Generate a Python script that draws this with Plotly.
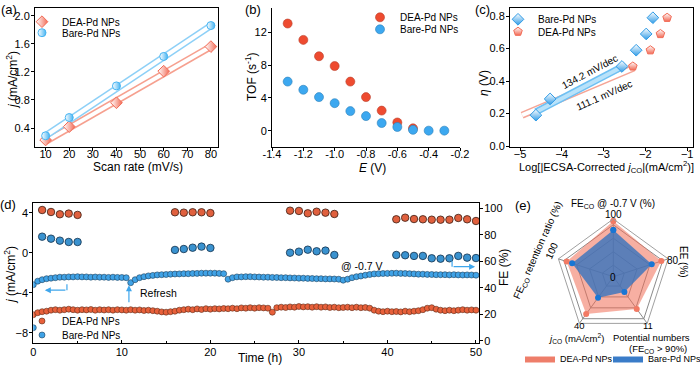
import plotly.graph_objects as go

W, H = 700, 368
FONT = "Arial, 'Liberation Sans', sans-serif"


def fx(p):
    return p / W


def fy(p):
    return 1 - p / H


# ---------------- data ----------------
# (a) double-layer capacitance
scan_rate = [10, 20, 40, 60, 80]
dea_cdl_j = [0.23, 0.42, 0.76, 1.21, 1.56]
bare_cdl_j = [0.29, 0.55, 1.00, 1.42, 1.86]
fit_rate = [10, 80]
dea_cdl_fit = [0.21, 1.56]
bare_cdl_fit = [0.29, 1.86]

# (b) TOF
tof_potential_dea = [-1.3, -1.2, -1.1, -1.0, -0.9, -0.8, -0.7, -0.6, -0.5]
tof_dea = [13.1, 11.1, 9.1, 7.9, 6.0, 4.1, 2.45, 1.0, 0.28]
tof_potential_bare = [-1.3, -1.2, -1.1, -1.0, -0.9, -0.8, -0.7, -0.6, -0.5, -0.4, -0.3]
tof_bare = [6.0, 5.0, 4.1, 3.36, 2.39, 1.78, 0.93, 0.45, 0.1, 0.0, 0.0]

# (c) Tafel
tafel_x_bare = [-4.62, -4.28, -2.56, -2.22, -1.98, -1.82]
tafel_eta_bare = [0.19, 0.29, 0.49, 0.59, 0.69, 0.79]
tafel_x_dea = [-2.30, -1.88, -1.64, -1.48]
tafel_eta_dea = [0.49, 0.59, 0.69, 0.79]
fit_x_bare = [-4.62, -2.54]
fit_eta_bare = [0.21, 0.49]
fit_x_dea = [-4.95, -2.28]
fit_eta_dea = [0.19, 0.48]
slope_labels = ["134.2 mV/dec", "111.1 mV/dec"]

# (d) stability
time_h = [i * 0.5 for i in range(101)]
bare_j_t = [
    -3.2, -2.85, -2.7, -2.6, -2.55, -2.5, -2.45,
    -2.45, -2.42, -2.42, -2.4, -2.42, -2.42, -2.45, -2.43, -2.45, -2.45, -2.47, -2.45, -2.47, -2.48, -2.5,
    -3.0, -2.7, -2.5, -2.4, -2.32, -2.27, -2.22, -2.2, -2.18,
    -2.15, -2.13, -2.12, -2.1, -2.1, -2.08, -2.07, -2.05, -2.05, -2.05, -2.05, -2.07, -2.1,
    -2.65, -2.5, -2.42,
    -2.42, -2.4, -2.4, -2.42, -2.43, -2.45, -2.45, -2.47, -2.48, -2.5, -2.5, -2.52, -2.53, -2.55, -2.55,
    -2.57, -2.58, -2.6, -2.6, -2.62, -2.62, -2.63, -2.65,
    -2.75, -2.65, -2.5, -2.4, -2.33, -2.25, -2.18,
    -2.12, -2.1, -2.08, -2.07, -2.06, -2.05, -2.07, -2.08, -2.1, -2.12, -2.15, -2.15, -2.17, -2.18,
    -2.2, -2.2, -2.2, -2.22, -2.2, -2.22, -2.23, -2.22, -2.23, -2.25,
]
dea_j_t = [
    -6.2, -6.0, -5.9, -5.85, -5.75, -5.7, -5.75, -5.7, -5.65, -5.7, -5.75, -5.7, -5.72, -5.68,
    -5.75, -5.7, -5.73, -5.7, -5.75, -5.7, -5.72, -5.75, -5.7, -5.75, -5.72, -5.78, -5.75, -5.8,
    -5.85, -5.92, -5.95, -5.9, -5.85, -5.75, -5.7, -5.65, -5.7, -5.62, -5.68, -5.6, -5.65, -5.6,
    -5.62, -5.58, -5.6, -5.55, -5.6, -5.52, -5.55, -5.5, -5.55, -5.5, -5.52, -5.55, -5.95, -5.5,
    -5.45, -5.48, -5.42, -5.45, -5.38, -5.42, -5.4, -5.45, -5.4, -5.45, -5.42, -5.48, -5.45, -5.5,
    -5.48, -5.45, -5.5, -5.45, -5.5, -5.48, -5.55, -5.75, -5.85, -5.9, -5.85, -5.9, -5.88, -5.92,
    -5.85, -5.9, -5.85, -5.8, -5.7, -5.55, -5.5, -5.65, -5.75, -5.8, -5.75, -5.8, -5.75, -5.7,
    -5.75, -5.72, -5.75,
]
bare_j_first_t = [0]
bare_j_first = [-7.5]
fe_time = [1, 2, 3, 4, 5, 16, 17, 18, 19, 20, 29, 30, 31, 32, 33, 34,
           41, 42, 43, 44, 45, 46, 47, 48, 49, 50]
fe_dea = [98.7, 97.2, 95.5, 96.0, 95.0, 97.0, 96.7, 97.0, 97.0, 96.4,
          98.2, 98.0, 96.2, 97.4, 96.7, 95.7,
          91.7, 92.9, 91.9, 91.7, 91.4, 91.4, 91.4, 92.7, 91.7, 90.4]
fe_bare = [78.6, 77.1, 75.6, 74.6, 74.6, 68.6, 69.3, 70.3, 71.1, 70.1,
           66.5, 67.3, 68.8, 67.6, 68.1, 64.8,
           64.8, 64.6, 64.1, 64.1, 62.3, 62.0, 62.3, 64.1, 62.8, 62.5]
fe_err_dea = [1.2, 1.0, 1.0, 1.2, 1.0, 1.0, 1.2, 1.0, 1.0, 1.2, 1.0, 1.0, 1.2,
              1.0, 1.0, 1.2, 1.0, 1.2, 1.0, 1.0, 1.2, 1.0, 1.0, 1.2, 1.0, 1.0]
fe_err_bare = [1.2, 1.0, 1.2, 1.0, 1.0, 1.5, 1.2, 1.5, 1.5, 1.2, 1.2, 1.0, 1.5,
               1.2, 1.2, 1.0, 1.2, 1.2, 1.0, 1.2, 1.5, 1.2, 1.2, 1.0, 1.2, 1.2]

# (e) radar
radar_theta = ["FE_CO", "EE", "Potential numbers", "j_CO", "FE_CO retention"]
radar_max = [100, 80, 11, 40, 100]
radar_dea = [96.5, 70, 7.6, 32, 85]
radar_bare = [81, 56, 3.6, 18, 75]

assert len(time_h) == len(bare_j_t) == len(dea_j_t)

# ---------------- colours ----------------
RED_A = "#F26A55"
BLUE_A = "#46B4F2"
ARROW = "#3FA6EC"

fig = go.Figure()

# ---- (a) ----
for yv, c_out, c_in in [(dea_cdl_fit, "#F6A08F", "white"), (bare_cdl_fit, "#8DD0F7", "white")]:
    fig.add_trace(go.Scatter(x=fit_rate, y=yv, mode="lines", line=dict(color=c_out, width=7),
                             xaxis="x", yaxis="y", showlegend=False, hoverinfo="skip"))
    fig.add_trace(go.Scatter(x=fit_rate, y=yv, mode="lines", line=dict(color=c_in, width=4),
                             xaxis="x", yaxis="y", showlegend=False, hoverinfo="skip"))
fig.add_trace(go.Scatter(x=scan_rate, y=dea_cdl_j, mode="markers", name="DEA-Pd NPs",
                         marker=dict(symbol="diamond", size=9, color="white",
                                     gradient=dict(type="horizontal", color=RED_A),
                                     line=dict(color=RED_A, width=1)),
                         xaxis="x", yaxis="y", legend="legend"))
fig.add_trace(go.Scatter(x=scan_rate, y=bare_cdl_j, mode="markers", name="Bare-Pd NPs",
                         marker=dict(symbol="circle", size=8, color="white",
                                     gradient=dict(type="horizontal", color=BLUE_A),
                                     line=dict(color=BLUE_A, width=1)),
                         xaxis="x", yaxis="y", legend="legend2"))

# ---- (b) ----
fig.add_trace(go.Scatter(x=tof_potential_dea, y=tof_dea, mode="markers", name="DEA-Pd NPs",
                         marker=dict(size=9, color="#EE4B30", line=dict(color="#B8402C", width=0.6)),
                         xaxis="x2", yaxis="y2", legend="legend3"))
fig.add_trace(go.Scatter(x=tof_potential_bare, y=tof_bare, mode="markers", name="Bare-Pd NPs",
                         marker=dict(size=9, color="#3CA8F0", line=dict(color="#2C7FB8", width=0.6)),
                         xaxis="x2", yaxis="y2", legend="legend4"))

# ---- (c) ----
for xv, yv, c_out, c_in in [(fit_x_dea, fit_eta_dea, "#F5A596", "white"),
                            (fit_x_bare, fit_eta_bare, "#6EC0F3", "#B8E2FA")]:
    fig.add_trace(go.Scatter(x=xv, y=yv, mode="lines", line=dict(color=c_out, width=7),
                             xaxis="x3", yaxis="y3", showlegend=False, hoverinfo="skip"))
    fig.add_trace(go.Scatter(x=xv, y=yv, mode="lines", line=dict(color=c_in, width=4),
                             xaxis="x3", yaxis="y3", showlegend=False, hoverinfo="skip"))
fig.add_trace(go.Scatter(x=tafel_x_bare, y=tafel_eta_bare, mode="markers", name="Bare-Pd NPs",
                         marker=dict(symbol="diamond", size=9, color="white",
                                     gradient=dict(type="vertical", color="#2F9BE6"),
                                     line=dict(color="#2F9BE6", width=1)),
                         xaxis="x3", yaxis="y3", legend="legend5"))
fig.add_trace(go.Scatter(x=tafel_x_dea, y=tafel_eta_dea, mode="markers", name="DEA-Pd NPs",
                         marker=dict(symbol="pentagon", size=9, color="white",
                                     gradient=dict(type="vertical", color=RED_A),
                                     line=dict(color=RED_A, width=1)),
                         xaxis="x3", yaxis="y3", legend="legend6"))

# ---- (d) ----
fig.add_trace(go.Scatter(x=time_h, y=dea_j_t, mode="markers", name="DEA-Pd NPs",
                         marker=dict(size=6, color="#E8603A", line=dict(color="#5A2A18", width=0.6)),
                         xaxis="x4", yaxis="y4", legend="legend7"))
fig.add_trace(go.Scatter(x=time_h, y=bare_j_t, mode="markers", name="Bare-Pd NPs",
                         marker=dict(size=6, color="#3FA2E6", line=dict(color="#1C3F5C", width=0.6)),
                         xaxis="x4", yaxis="y4", legend="legend8"))
fig.add_trace(go.Scatter(x=bare_j_first_t, y=bare_j_first, mode="markers", showlegend=False,
                         marker=dict(size=6, color="#3FA2E6", line=dict(color="#1C3F5C", width=0.6)),
                         xaxis="x4", yaxis="y4"))
fig.add_trace(go.Scatter(x=fe_time, y=fe_dea, mode="markers", showlegend=False,
                         error_y=dict(type="data", array=fe_err_dea, color="#333", thickness=0.8, width=2.5),
                         marker=dict(size=7.5, color="#E0603E", line=dict(color="#3A1E14", width=0.8)),
                         xaxis="x4", yaxis="y5"))
fig.add_trace(go.Scatter(x=fe_time, y=fe_bare, mode="markers", showlegend=False,
                         error_y=dict(type="data", array=fe_err_bare, color="#333", thickness=0.8, width=2.5),
                         marker=dict(size=7.5, color="#3A92CF", line=dict(color="#13304A", width=0.8)),
                         xaxis="x4", yaxis="y5"))

# ---- (e) radar ----
r_dea = [v / m for v, m in zip(radar_dea, radar_max)]
r_bare = [v / m for v, m in zip(radar_bare, radar_max)]
fig.add_trace(go.Scatterpolar(r=r_dea + r_dea[:1], theta=radar_theta + radar_theta[:1], mode="markers",
                              fill="toself", fillcolor="rgba(240,110,85,0.55)",
                              line=dict(color="rgba(0,0,0,0)", width=0),
                              marker=dict(size=6, color="#F27A64"), showlegend=False, subplot="polar"))
fig.add_trace(go.Scatterpolar(r=r_bare + r_bare[:1], theta=radar_theta + radar_theta[:1], mode="markers",
                              fill="toself", fillcolor="rgba(52,115,190,0.8)",
                              line=dict(color="rgba(0,0,0,0)", width=0),
                              marker=dict(size=6, color="#1876D4"), showlegend=False, subplot="polar"))
fig.add_trace(go.Scatterpolar(r=[None], theta=[None], mode="lines", fill="toself", name="DEA-Pd NPs",
                              fillcolor="#EE7E6A", line=dict(width=0, color="#EE7E6A"),
                              subplot="polar", legend="legend9"))
fig.add_trace(go.Scatterpolar(r=[None], theta=[None], mode="lines", fill="toself", name="Bare-Pd NPs",
                              fillcolor="#3A7CC8", line=dict(width=0, color="#3A7CC8"),
                              subplot="polar", legend="legend10"))


# ---------------- layout ----------------
def ax(dom, rng, **kw):
    d = dict(domain=dom, range=rng, showline=True, linecolor="black", linewidth=1, showgrid=False,
             zeroline=False, ticks="outside", ticklen=3, tickcolor="black", automargin=False,
             tickfont=dict(size=11, color="black", family=FONT))
    d.update(kw)
    return d


def leg(xp, yp, size=10):
    return dict(x=fx(xp), y=fy(yp), xanchor="left", yanchor="middle", bgcolor="rgba(0,0,0,0)",
                borderwidth=0, font=dict(size=size, color="black", family=FONT), itemwidth=30,
                tracegroupgap=0)


top_dom = [fy(147), fy(8)]
layout = dict(
    template="none",
    width=W, height=H, autosize=False, margin=dict(l=0, r=0, t=0, b=0, autoexpand=False),
    paper_bgcolor="white", plot_bgcolor="white", font=dict(family=FONT, color="black", size=11),
    xaxis=ax([fx(35), fx(218)], [5.5, 83], anchor="y", mirror=True, ticklabelstandoff=-6,
             tickvals=[10, 20, 30, 40, 50, 60, 70, 80]),
    yaxis=ax(top_dom, [0.13, 2.11], anchor="x", mirror=True, tickvals=[0.4, 0.8, 1.2, 1.6, 2.0],
             ticktext=["0.4", "0.8", "1.2", "1.6", "2.0"], ticklabelstandoff=-1),
    xaxis2=ax([fx(272), fx(460)], [-1.4, -0.2], anchor="y2", ticklabelstandoff=-6,
              tickvals=[-1.4, -1.2, -1.0, -0.8, -0.6, -0.4, -0.2],
              ticktext=["-1.4", "-1.2", "-1.0", "-0.8", "-0.6", "-0.4", "-0.2"]),
    yaxis2=ax(top_dom, [-2, 15], anchor="x2", tickvals=[0, 4, 8, 12], ticklabelstandoff=-1),
    xaxis3=ax([fx(510), fx(693)], [-5.24, -0.86], anchor="y3", mirror=True, ticklabelstandoff=-6,
              tickvals=[-5, -4, -3, -2, -1]),
    yaxis3=ax(top_dom, [-0.006, 0.85], anchor="x3", mirror=True, tickvals=[0, 0.2, 0.4, 0.6, 0.8],
              ticktext=["0.0", "0.2", "0.4", "0.6", "0.8"], ticklabelstandoff=-1),
    xaxis4=ax([fx(33.3), fx(479)], [0, 50.34], anchor="y4", mirror=True, ticks="inside",
              tickvals=[0, 10, 20, 30, 40, 50], ticklabelstandoff=-1,
              minor=dict(tickvals=[5, 15, 25, 35, 45], ticks="inside", ticklen=2, tickcolor="black")),
    yaxis4=ax([fy(342.7), fy(202.7)], [-9, 5], anchor="x4", tickvals=[-8, -4, 0, 4], ticklabelstandoff=-1),
    yaxis5=ax([fy(342.7), fy(202.7)], [-1.3, 104.2], anchor="x4", overlaying="y4", side="right",
              tickvals=[0, 20, 40, 60, 80, 100], ticklabelstandoff=-1),
    polar=dict(
        domain=dict(x=[fx(555.6), fx(671)], y=[fy(334.4), fy(219)]),
        bgcolor="white", gridshape="linear",
        angularaxis=dict(categoryorder="array", categoryarray=radar_theta, rotation=90,
                         direction="clockwise", showticklabels=False, ticks="",
                         linecolor="#a0a0a0", linewidth=1, gridcolor="#8a8a8a", gridwidth=1),
        radialaxis=dict(range=[0, 1], tickvals=[0.2, 0.433, 0.667, 0.9], showticklabels=False,
                        ticks="", showline=False, gridcolor="#8a8a8a", gridwidth=1),
    ),
    legend=leg(22, 21.7), legend2=leg(22, 32.7),
    legend3=leg(360, 17.3), legend4=leg(360, 29.3),
    legend5=leg(498, 19.3), legend6=leg(498, 31.7),
    legend7=leg(22, 321), legend8=leg(22, 335),
    legend9=leg(520, 358.5, 9), legend10=leg(608, 358.5, 9),
)
fig.update_layout(**layout)


def ann(text, xp, yp, size=12, angle=0, xanchor="center", yanchor="middle", **kw):
    d = dict(text=text, x=fx(xp), y=fy(yp), xref="paper", yref="paper", showarrow=False,
             font=dict(size=size, color="black", family=FONT), textangle=angle,
             xanchor=xanchor, yanchor=yanchor)
    d.update(kw)
    return d


annotations = [
    # panel labels
    ann("(a)", 9, 9, 13), ann("(b)", 253, 9, 13), ann("(c)", 482, 9, 13),
    ann("(d)", 8, 204, 13), ann("(e)", 523, 205, 13),
    # axis titles
    ann("<i>j</i> (mA/cm<sup>2</sup>)", 12, 80, 12, -90),
    ann("Scan rate (mV/s)", 138, 167, 12),
    ann("TOF (s<sup>-1</sup>)", 251, 77, 12, -90),
    ann("<i>E</i> (V)", 373, 168, 12),
    ann("<i>η</i> (V)", 484, 83, 12, -90),
    ann("Log[|ECSA-Corrected <i>j</i><sub>CO</sub>|(mA/cm<sup>2</sup>)]", 606, 167, 11),
    ann("<i>j</i> (mA/cm<sup>2</sup>)", 10, 275, 12, -90),
    ann("Time (h)", 260, 358, 12),
    ann("FE (%)", 504, 268, 12, -90),
    # radar labels
    ann("FE<sub>CO</sub> @ -0.7 V (%)", 613, 204, 10),
    ann("100", 613, 214, 10),
    ann("80", 673, 260, 10),
    ann("EE (%)", 684, 262, 10, 90),
    ann("11", 648, 325, 9.5),
    ann("Potential numbers", 651, 337, 9.5),
    ann("(FE<sub>CO</sub> > 90%)", 658, 348.5, 9.5),
    ann("40", 579, 325, 9.5),
    ann("<i>j</i><sub>CO</sub> (mA/cm<sup>2</sup>)", 576, 338, 9.5),
    ann("100", 551, 251, 10, -66),
    ann("FE<sub>CO</sub> retention ratio (%)", 538, 250, 10, -66),
    ann("0", 613, 277, 10),
]

annotations += [
    dict(text=slope_labels[0], x=-3.32, y=0.457, xref="x3", yref="y3", showarrow=False, textangle=-28,
         font=dict(size=10, color="black", family=FONT)),
    dict(text=slope_labels[1], x=-3.0, y=0.314, xref="x3", yref="y3", showarrow=False, textangle=-24,
         font=dict(size=10, color="black", family=FONT)),
    dict(text="Refresh", x=11.8, y=-4.0, xref="x4", yref="y4", showarrow=False, xanchor="left",
         font=dict(size=10.5, color="black", family=FONT)),
    dict(text="@ -0.7 V", x=37.1, y=-1.3, xref="x4", yref="y4", showarrow=False,
         font=dict(size=10.5, color="black", family=FONT)),
    dict(text="", x=10.8, y=-3.25, ax=10.8, ay=-5.1, xref="x4", yref="y4", axref="x4", ayref="y4",
         showarrow=True, arrowhead=2, arrowsize=1, arrowwidth=1.2, arrowcolor=ARROW),
    dict(text="", x=1.3, y=-3.75, ax=3.8, ay=-3.75, xref="x4", yref="y4", axref="x4", ayref="y4",
         showarrow=True, arrowhead=2, arrowsize=1, arrowwidth=1.2, arrowcolor=ARROW),
    dict(text="", x=49.9, y=-1.4, ax=47.3, ay=-1.4, xref="x4", yref="y4", axref="x4", ayref="y4",
         showarrow=True, arrowhead=2, arrowsize=1, arrowwidth=1.2, arrowcolor=ARROW),
]
fig.update_layout(annotations=annotations)

fig.update_layout(shapes=[
    dict(type="line", x0=3.8, x1=3.8, y0=-3.15, y1=-3.75, xref="x4", yref="y4",
         line=dict(color=ARROW, width=1.2)),
    dict(type="line", x0=47.3, x1=47.3, y0=-0.8, y1=-1.4, xref="x4", yref="y4",
         line=dict(color=ARROW, width=1.2)),
])

fig.write_html("out.html", config={"displayModeBar": False},
               post_script="document.body.style.margin='0';")
